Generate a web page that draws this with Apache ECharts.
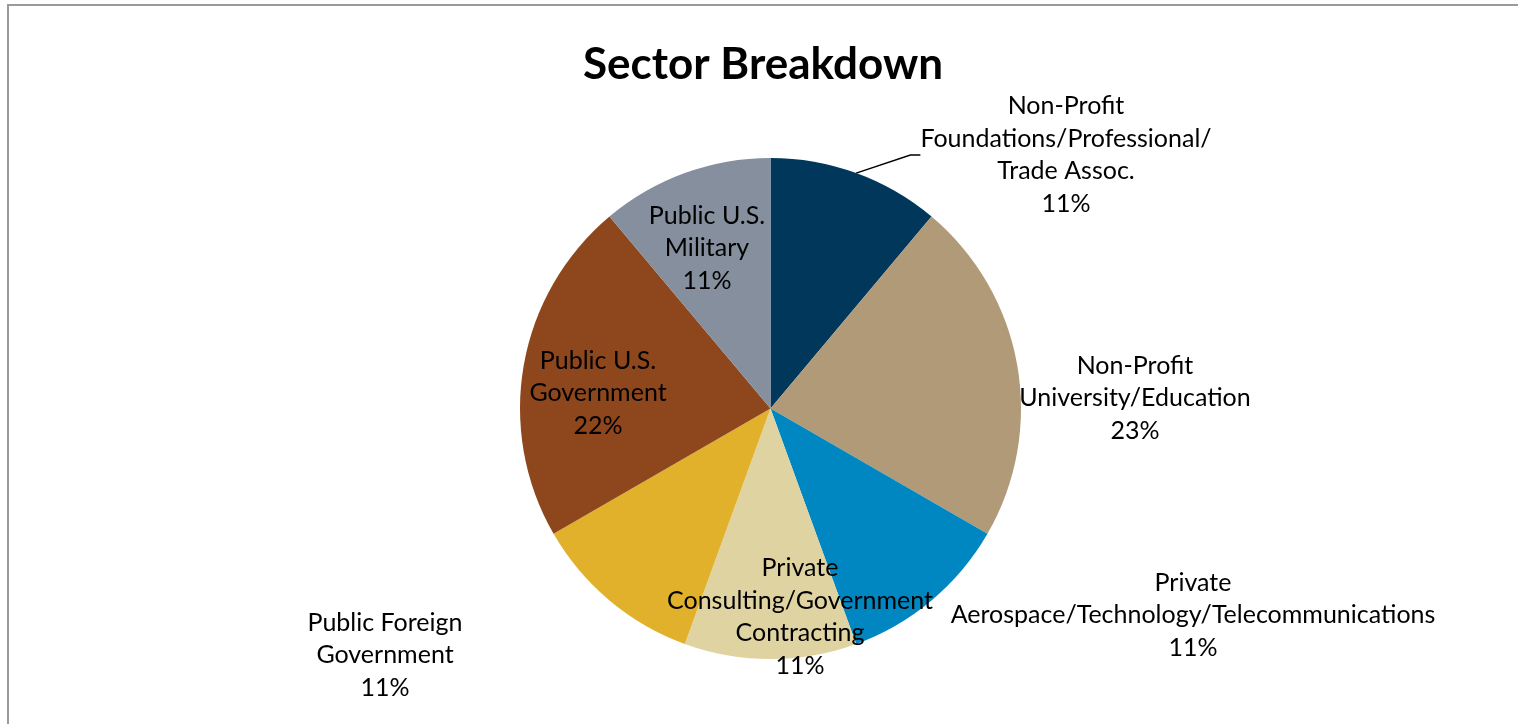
<!DOCTYPE html>
<html>
<head>
<meta charset="utf-8">
<script src="https://cdn.jsdelivr.net/npm/echarts@6/dist/echarts.min.js"></script>
<style>
html,body{margin:0;padding:0;background:#fff;}
#chart{width:1518px;height:724px;}
</style>
</head>
<body>
<div id="chart"></div>
<script>
const categories = [
  'Non-Profit\nFoundations/Professional/\nTrade Assoc.',
  'Non-Profit\nUniversity/Education',
  'Private\nAerospace/Technology/Telecommunications',
  'Private\nConsulting/Government\nContracting',
  'Public Foreign\nGovernment',
  'Public U.S.\nGovernment',
  'Public U.S.\nMilitary'
];
const values = [1, 2, 1, 1, 1, 2, 1];
const colors = ['#00375A', '#B09A77', '#0086C0', '#E0D3A2', '#E1B12C', '#8E461D', '#858F9E'];
const titleText = 'Sector Breakdown';

// label centre positions (layout only)
const labelPos = [
  [1066, 155], [1135, 398], [1193, 615], [800, 617], [385, 655], [598, 393], [707, 248]
];

const chart = echarts.init(document.getElementById('chart'));
const FONT = 'Lato';
chart.setOption({
  backgroundColor: '#fff',
  animation: false,
  title: {
    text: titleText,
    left: 758, top: 60, textAlign: 'center', textVerticalAlign: 'middle',
    textStyle: {fontFamily: FONT, fontWeight: 'bold', fontSize: 44, color: '#000'}
  },
  graphic: [{
    type: 'rect', shape: {x: 8, y: 5, width: 1700, height: 900},
    style: {fill: 'none', stroke: '#9a9a9a', lineWidth: 2}, silent: true, z: 100
  }],
  series: [{
    type: 'pie',
    center: [770.5, 408.5],
    radius: 250.5,
    startAngle: 90,
    clockwise: true,
    percentPrecision: 0,
    avoidLabelOverlap: false,
    itemStyle: {borderWidth: 0},
    label: {
      show: true,
      formatter: '{b}\n{d}%',
      fontFamily: FONT, fontSize: 25, lineHeight: 32.5, color: '#000',
      align: 'center'
    },
    labelLine: {show: false},
    labelLayout: function (p) {
      const pos = labelPos[p.dataIndex];
      return {x: pos[0], y: pos[1], align: 'center', verticalAlign: 'middle'};
    },
    data: categories.map((c, i) => ({
      name: c, value: values[i],
      itemStyle: {color: colors[i]},
      labelLine: i === 0 ? {show: true, length: 30, length2: 10, lineStyle: {color: '#000', width: 1.5}} : {show: false}
    }))
  }]
});
</script>
</body>
</html>
